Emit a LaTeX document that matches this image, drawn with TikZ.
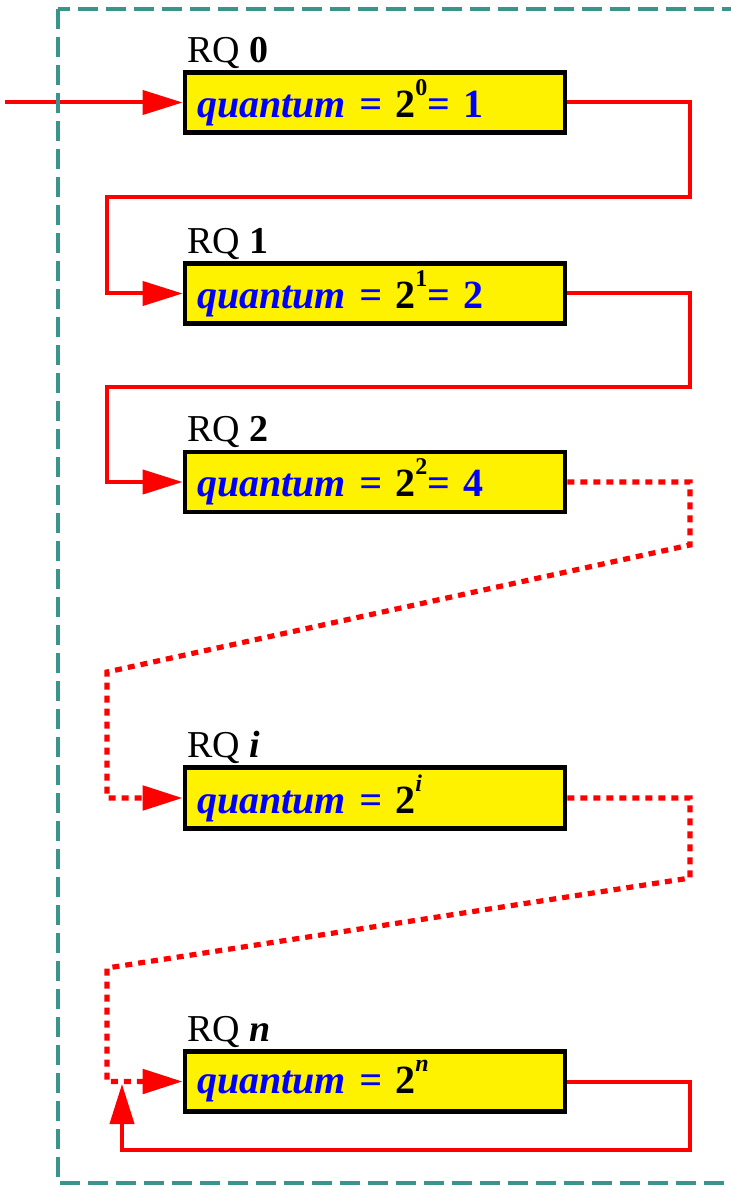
\documentclass[tikz,border=0pt]{standalone}
\usepackage{fontspec}
\setmainfont{Liberation Serif}
\usetikzlibrary{arrows.meta}
\usetikzlibrary{positioning}

\definecolor{frameteal}{RGB}{58,148,140}

% text inside a run-queue box
\newcommand{\quantumtext}[2]{{\color{blue}\itshape quantum =} 2\raisebox{0.55em}{\fontsize{12}{12}\selectfont#1}#2}

\begin{document}
\begin{tikzpicture}[x=0.5pt,y=-0.5pt,
  qbox/.style={draw=black,line width=2.4pt,fill=yellow,minimum width=190pt,minimum height=30pt,
    text width=178pt,inner xsep=6pt,align=left,font=\fontsize{20}{24}\selectfont\bfseries},
  rqlabel/.style={anchor=base west,inner sep=0pt,font=\fontsize{19}{22}\selectfont},
  link/.style={draw=red,line width=2pt,-{Triangle[length=20pt,width=12pt]}},
  dotlink/.style={link,line width=2.6pt,dash pattern=on 3.5pt off 3pt}]
\useasboundingbox (0,0) rectangle (731,1187);

\node[qbox] (q0) at (375,102.5) {\quantumtext{0}{\color{blue}= 1}};
\node[qbox] (q1) at (375,293.5) {\quantumtext{1}{\color{blue}= 2}};
\node[qbox] (q2) at (375,482) {\quantumtext{2}{\color{blue}= 4}};
\node[qbox] (qi) at (375,798) {\quantumtext{\itshape i}{}};
\node[qbox] (qn) at (375,1081.5) {\quantumtext{\itshape n}{}};

\node[rqlabel] (rq0) at ([shift={(4,-8)}]q0.north west) {RQ \textbf{0}};
\node[rqlabel] (rq1) at ([shift={(4,-8)}]q1.north west) {RQ \textbf{1}};
\node[rqlabel] (rq2) at ([shift={(4,-8)}]q2.north west) {RQ \textbf{2}};
\node[rqlabel] (rqi) at ([shift={(4,-8)}]qi.north west) {RQ \textbf{\itshape i}};
\node[rqlabel] (rqn) at ([shift={(4,-8)}]qn.north west) {RQ \textbf{\itshape n}};

% turning points of the connectors
\coordinate (entry) at (5,102.5);
\coordinate (r0) at (690,197);  \coordinate (l0) at (107,197);
\coordinate (r1) at (690,387);  \coordinate (l1) at (107,387);
\coordinate (r2) at (690,545);  \coordinate (l2) at (107,672);
\coordinate (ri) at (690,878);  \coordinate (li) at (107,968);
\coordinate (rn) at (690,1150); \coordinate (join) at (122,1084);

\draw[link] (entry) -- (q0.west);
\draw[link] (q0.east) -| (r0) -- (l0) |- (q1.west);
\draw[link] (q1.east) -| (r1) -- (l1) |- (q2.west);
\draw[dotlink] (q2.east) -| (r2) -- (l2) |- (qi.west);
\draw[dotlink] (qi.east) -| (ri) -- (li) |- (qn.west);
\draw[link] (qn.east) -| (rn) -| (join);

% dashed frame round the queues
\draw[frameteal,line width=2pt,dash pattern=on 10pt off 4pt] (58,9) rectangle (780,1183);
\end{tikzpicture}
\end{document}
